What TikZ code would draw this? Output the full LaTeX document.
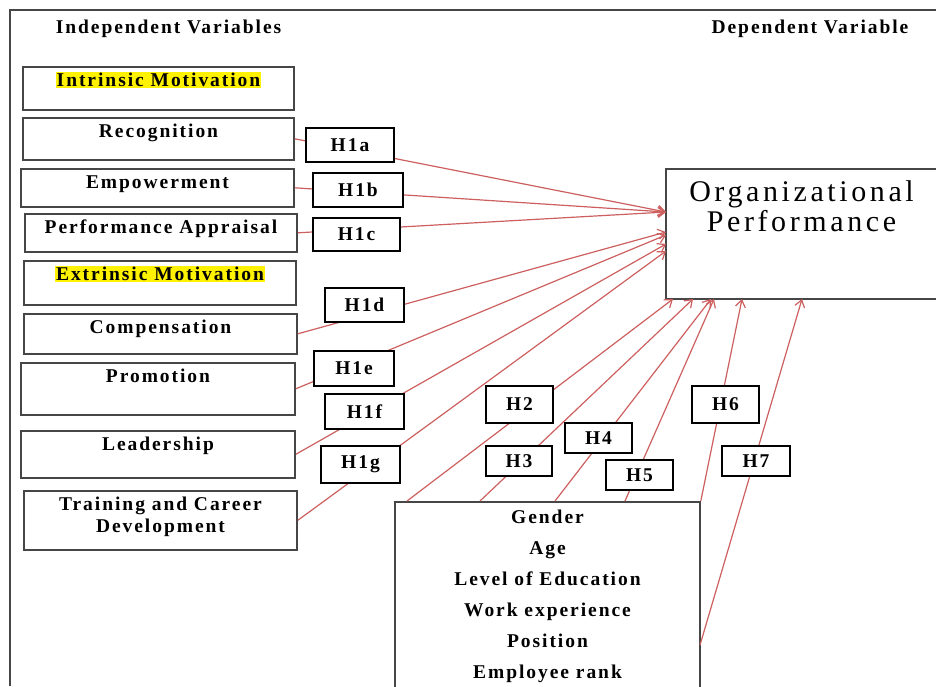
\documentclass[tikz,border=0pt]{standalone}
\usepackage{fontspec}
\setmainfont{Liberation Serif}
\usetikzlibrary{arrows.meta}

\newcommand\lbl{\fontsize{19.5}{22}\selectfont\bfseries\addfontfeature{LetterSpace=10}}
\newcommand\lblwide{\fontsize{19.5}{31}\selectfont\bfseries\addfontfeature{LetterSpace=10}}
\newcommand\orgfont{\fontsize{30}{30}\selectfont\addfontfeature{LetterSpace=12}}
\newcommand\hl[1]{{\setlength{\fboxsep}{1pt}\colorbox{yellow}{#1}}}
\definecolor{hypred}{RGB}{205,95,95}
\definecolor{boxgray}{RGB}{70,70,70}

\tikzset{
  varbox/.style={draw=boxgray, line width=1.6pt, fill=white, anchor=north, inner sep=0pt,
    text height=20pt, align=center, font=\lbl},
  hbox/.style={draw=black, line width=1.3pt, fill=white, inner sep=0pt, font=\lbl},
  hyp/.style={hypred, line width=1.2pt, -{Straight Barb[length=7pt,width=10pt]}}
}

\begin{document}
\begin{tikzpicture}[x=1pt,y=-1pt]
    \useasboundingbox (0,0) rectangle (936,686);
    \draw[boxgray, line width=1.2pt] (10,686) -- (10,10) -- (936,10);
    \node[font=\lbl, anchor=base] (indep) at (168.5,33) {Independent Variables};
    \node[font=\lbl, anchor=base] (dep) at (810,33) {Dependent Variable};

    \node[varbox, minimum width=271, text depth=23] (im) at (158.5,66) {\hl{Intrinsic Motivation}};
    \node[varbox, minimum width=271, text depth=22] (rec) at (158.5,117) {Recognition};
    \node[varbox, minimum width=273, text depth=18] (emp) at (157.5,168) {Empowerment};
    \node[varbox, minimum width=272, text depth=18] (pa) at (161,213) {Performance Appraisal};
    \node[varbox, minimum width=272, text depth=24] (em) at (160,260) {\hl{Extrinsic Motivation}};
    \node[varbox, minimum width=273, text depth=20] (comp) at (160.5,313) {Compensation};
    \node[varbox, minimum width=274, text depth=32] (prom) at (158,362) {Promotion};
    \node[varbox, minimum width=274, text depth=27] (lead) at (158,430) {Leadership};
    \node[varbox, minimum width=273, text height=42pt, text depth=17] (tcd) at (160.5,490) {Training and Career\\Development};

    \node[varbox, font=\orgfont, minimum width=271, text height=63pt, text depth=67] (org) at (801.5,168) {Organizational\\Performance};
    \node[varbox, font=\lblwide, minimum width=305, text height=177pt, text depth=30] (dem) at (547.5,501) {Gender\\Age\\Level of Education\\Work experience\\Position\\Employee rank};

    \coordinate (ta) at (666,212);
    \coordinate (tb) at (666,232);
    \coordinate (tc) at (666,235);
    \coordinate (td) at (666,244);
    \coordinate (te) at (666,251);
    \coordinate (t2) at (673,299);
    \coordinate (t3) at (693,299);
    \coordinate (t4) at (711,299);
    \coordinate (t5) at (714,299);
    \coordinate (t6) at (742,299);
    \coordinate (t7) at (802,299);
    \coordinate (s2) at (407,501);
    \coordinate (s3) at (480,501);
    \coordinate (s4) at (555,501);
    \coordinate (s5) at (625,501);
    \coordinate (s7) at (700,645);

    \draw[hyp] (rec.east) -- (ta);
    \draw[hyp] (emp.east) -- (ta);
    \draw[hyp] (pa.east) -- (ta);
    \draw[hyp] (comp.east) -- (tb);
    \draw[hyp] (prom.east) -- (tc);
    \draw[hyp] (lead.east) -- (td);
    \draw[hyp] (tcd.east) -- (te);
    \draw[hyp] (s2) -- (t2);
    \draw[hyp] (s3) -- (t3);
    \draw[hyp] (s4) -- (t4);
    \draw[hyp] (s5) -- (t5);
    \draw[hyp] (dem.north east) -- (t6);
    \draw[hyp] (s7) -- (t7);

    \node[hbox, minimum width=88, minimum height=34] (h1a) at (350,145) {H1a};
    \node[hbox, minimum width=90, minimum height=34] (h1b) at (358,190) {H1b};
    \node[hbox, minimum width=87, minimum height=33] (h1c) at (356.5,234.5) {H1c};
    \node[hbox, minimum width=79, minimum height=34] (h1d) at (364.5,305) {H1d};
    \node[hbox, minimum width=80, minimum height=35] (h1e) at (354,368.5) {H1e};
    \node[hbox, minimum width=79, minimum height=35] (h1f) at (364.5,411.5) {H1f};
    \node[hbox, minimum width=79, minimum height=37] (h1g) at (360.5,464.5) {H1g};
    \node[hbox, minimum width=67, minimum height=37] (h2) at (519.5,404.5) {H2};
    \node[hbox, minimum width=66, minimum height=30] (h3) at (519,461) {H3};
    \node[hbox, minimum width=67, minimum height=30] (h4) at (598.5,438) {H4};
    \node[hbox, minimum width=67, minimum height=30] (h5) at (639.5,475) {H5};
    \node[hbox, minimum width=67, minimum height=37] (h6) at (725.5,404.5) {H6};
    \node[hbox, minimum width=68, minimum height=30] (h7) at (756,461) {H7};
\end{tikzpicture}
\end{document}
